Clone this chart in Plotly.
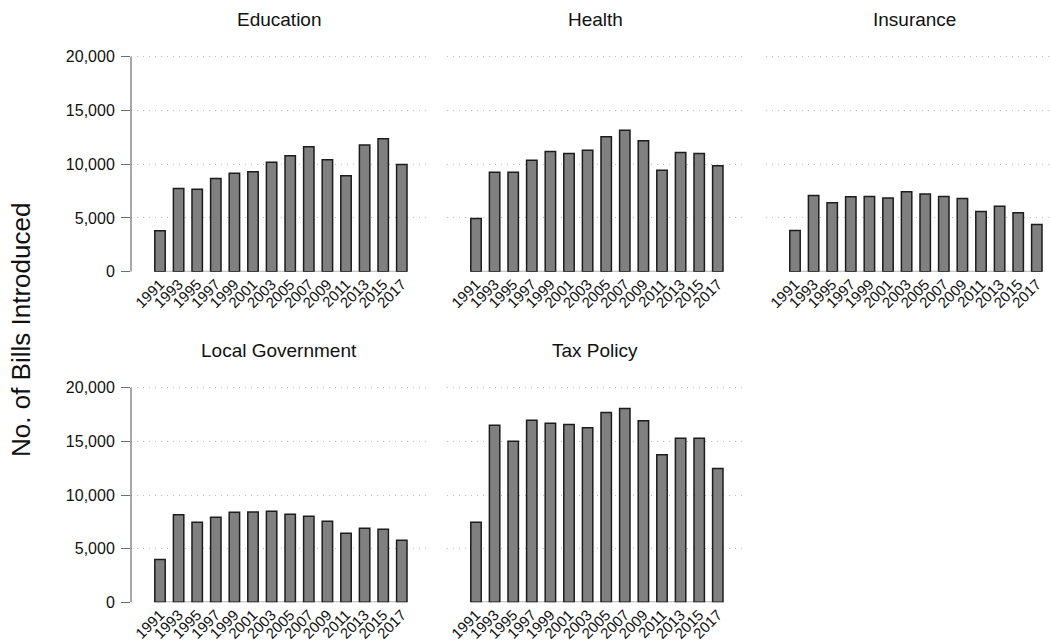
import plotly.graph_objects as go

# Biennial sessions
years = ["1991", "1993", "1995", "1997", "1999", "2001", "2003",
         "2005", "2007", "2009", "2011", "2013", "2015", "2017"]

# Number of bills introduced per session, by topic
education = [3800, 7750, 7660, 8680, 9150, 9300, 10170,
             10790, 11630, 10420, 8930, 11780, 12370, 9980]
health = [4960, 9240, 9240, 10360, 11190, 11000, 11290,
          12560, 13150, 12190, 9430, 11100, 11000, 9860]
insurance = [3840, 7100, 6420, 6980, 7000, 6850, 7440,
             7220, 7000, 6820, 5610, 6080, 5490, 4400]
local_government = [3980, 8170, 7450, 7920, 8390, 8420, 8480,
                    8200, 8010, 7550, 6430, 6890, 6800, 5780]
tax_policy = [7450, 16490, 15000, 16960, 16680, 16580, 16270,
              17700, 18070, 16930, 13760, 15280, 15280, 12480]

panel_titles = ["Education", "Health", "Insurance", "Local Government", "Tax Policy"]
panel_values = [education, health, insurance, local_government, tax_policy]

y_ticks = [0, 5000, 10000, 15000, 20000]
y_tick_text = ["0", "5,000", "10,000", "15,000", "20,000"]

FONT = "Liberation Sans, Arial, Helvetica, sans-serif"
BAR_FILL = "#808080"
BAR_LINE = "#1c1c1c"
GRID = "#bdbdbd"
AXIS = "#6e6e6e"
BAR_WIDTH = 0.56

W, H = 1050, 643
Y_MAX = 20000
Y_PAD = 150   # small headroom so the top gridline is drawn
# panel frames in pixels: (left, right) per column, (y=20000, y=0) per row
col_px = [(131, 427), (447, 743), (766, 1050)]
row_px = [(56.7, 271.7), (387.7, 602.3)]
slot_px = 18.6          # pixel width of one category slot
first_offset_px = 29.0  # distance from panel edge to first bar centre
panel_w_px = 296

fig = go.Figure()

for i, (title, vals) in enumerate(zip(panel_titles, panel_values)):
    r, c = divmod(i, 3)
    n = i + 1
    suffix = "" if n == 1 else str(n)
    xa, ya = "x" + suffix, "y" + suffix
    left, right = col_px[c]
    top, bottom = row_px[r]
    top_ext = top - (bottom - top) * Y_PAD / Y_MAX
    x0 = -first_offset_px / slot_px
    x1 = x0 + (right - left) / slot_px

    fig.add_trace(go.Bar(
        x=years, y=vals, xaxis=xa, yaxis=ya,
        width=BAR_WIDTH,
        marker=dict(color=BAR_FILL, line=dict(color=BAR_LINE, width=1.5)),
        showlegend=False, hoverinfo="x+y",
    ))

    first_col = (c == 0)
    fig.layout["xaxis" + suffix] = dict(
        domain=[left / W, right / W],
        anchor=ya, type="category", range=[x0, x1],
        showgrid=False, zeroline=False, showline=False,
        ticks="", tickangle=-45, automargin=False,
        tickfont=dict(family=FONT, size=15, color="#111"),
        fixedrange=True,
    )
    fig.layout["yaxis" + suffix] = dict(
        domain=[1 - bottom / H, 1 - top_ext / H],
        anchor=xa, range=[0, Y_MAX + Y_PAD],
        tickvals=y_ticks, ticktext=y_tick_text,
        showticklabels=first_col, automargin=False,
        ticks="outside" if first_col else "", ticklen=9, tickwidth=1.2,
        tickcolor=AXIS, ticklabelstandoff=3,
        showline=False,
        showgrid=True, gridcolor=GRID, gridwidth=1, griddash="1px,5px",
        zeroline=False,
        tickfont=dict(family=FONT, size=16, color="#111"),
        fixedrange=True,
    )

    if first_col:
        # left axis line running from 0 up to the top tick
        fig.add_shape(type="line", xref=xa + " domain", yref=ya,
                      x0=0, x1=0, y0=0, y1=Y_MAX,
                      line=dict(color=AXIS, width=1.2), layer="above")

    # x-axis baseline spanning the bars
    fig.add_shape(type="line", xref=xa, yref=ya,
                  x0=-BAR_WIDTH / 2, x1=len(years) - 1 + BAR_WIDTH / 2,
                  y0=0, y1=0, line=dict(color="#b4b4b4", width=2), layer="below")

    fig.add_annotation(text=title, xref="paper", yref="paper",
                       x=(left + panel_w_px / 2) / W,
                       y=1 - (top - 37) / H,
                       xanchor="center", yanchor="middle", showarrow=False,
                       font=dict(family=FONT, size=19, color="#111"))

fig.add_annotation(text="No. of Bills Introduced", xref="paper", yref="paper",
                   x=21 / W, y=1 - 330 / H, textangle=-90,
                   xanchor="center", yanchor="middle", showarrow=False,
                   font=dict(family=FONT, size=26, color="#111"))

fig.update_layout(
    width=W, height=H,
    margin=dict(l=0, r=0, t=0, b=0, autoexpand=False),
    paper_bgcolor="white", plot_bgcolor="white",
    template="none",
)

fig.write_html("out.html")
